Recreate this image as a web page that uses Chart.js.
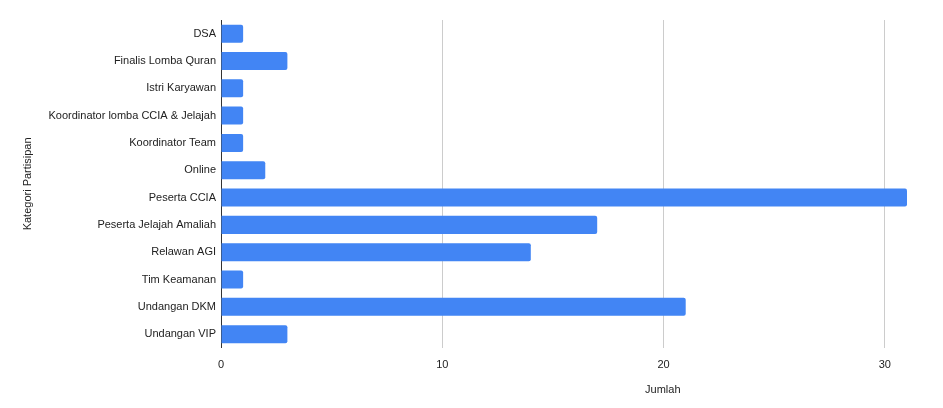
<!DOCTYPE html>
<html>
<head>
<meta charset="utf-8">
<script src="https://cdn.jsdelivr.net/npm/chart.js@4"></script>
<style>
html,body{margin:0;padding:0;background:#fff;}
#wrap{width:943px;height:408px;position:relative;}
</style>
</head>
<body>
<div id="wrap"><canvas id="c"></canvas></div>
<script>
const categories = ["DSA","Finalis Lomba Quran","Istri Karyawan","Koordinator lomba CCIA & Jelajah","Koordinator Team","Online","Peserta CCIA","Peserta Jelajah Amaliah","Relawan AGI","Tim Keamanan","Undangan DKM","Undangan VIP"];
const jumlah = [1,3,1,1,1,2,31,17,14,1,21,3];
const xTicks = [0,10,20,30];
const xTitle = "Jumlah";
const yTitle = "Kategori Partisipan";

const FONT = "'Liberation Sans', Arial, sans-serif";

const xTitlePlugin = {
  id: 'xTitlePlugin',
  afterDraw(chart) {
    const ctx = chart.ctx, a = chart.chartArea;
    ctx.save();
    ctx.font = "11px " + FONT;
    ctx.fillStyle = '#222';
    ctx.textAlign = 'center';
    ctx.textBaseline = 'middle';
    ctx.fillText(xTitle, a.left + (a.right - a.left) * 0.644, chart.height - 18);
    ctx.restore();
  }
};

new Chart(document.getElementById('c'), {
  type: 'bar',
  data: {
    labels: categories,
    datasets: [{
      label: xTitle,
      data: jumlah,
      backgroundColor: '#4285f4',
      borderRadius: 2,
      categoryPercentage: 1,
      barPercentage: 0.66
    }]
  },
  plugins: [xTitlePlugin],
  options: {
    indexAxis: 'y',
    responsive: true,
    maintainAspectRatio: false,
    animation: false,
    layout: { padding: { top: 20, right: 36, bottom: 25, left: 0 } },
    plugins: { legend: { display: false }, tooltip: { enabled: false } },
    scales: {
      x: {
        min: 0, max: 31,
        afterBuildTicks: (s) => { s.ticks = xTicks.map(v => ({ value: v })); },
        grid: { color: '#cccccc', drawTicks: false, lineWidth: 1 },
        border: { display: false },
        ticks: { font: { family: FONT, size: 11 }, color: '#222', padding: 11 },
        title: { display: false }
      },
      y: {
        grid: { display: false, drawTicks: false },
        border: { display: true, color: '#333', width: 1 },
        ticks: { font: { family: FONT, size: 11 }, color: '#222', padding: 5, autoSkip: false },
        title: { display: true, text: yTitle, font: { family: FONT, size: 11 }, color: '#222', padding: { top: 21, bottom: 0 } },
        afterFit: (s) => { s.width = 221; }
      }
    }
  }
});
</script>
</body>
</html>
